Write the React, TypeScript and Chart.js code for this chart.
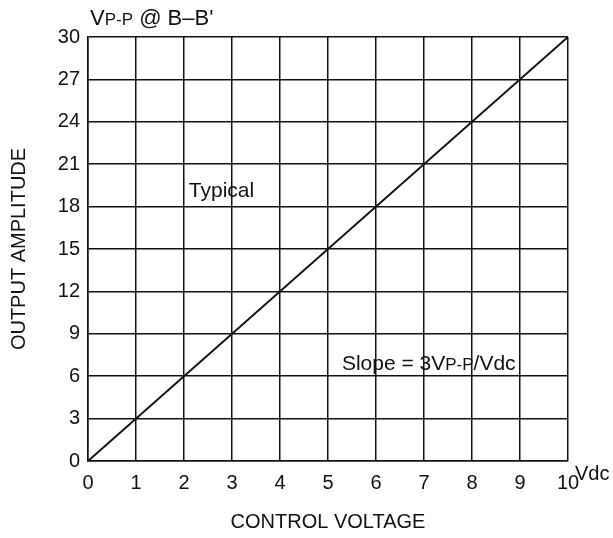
import React, { useEffect, useRef } from "react";
import { Chart, registerables } from "chart.js";

Chart.register(...registerables);

// ---- data ----
const lineX = [0, 10];
const lineY = [0, 30];
const xTickValues = [0, 1, 2, 3, 4, 5, 6, 7, 8, 9, 10];
const yTickValues = [0, 3, 6, 9, 12, 15, 18, 21, 24, 27, 30];
const xTitle = "CONTROL VOLTAGE";
const yTitle = "OUTPUT AMPLITUDE";
const xUnit = "Vdc";
const yUnitParts = ["V", "P-P", " @ B–B'"];
const typicalText = "Typical";
const typicalPos = [2.1, 19.1];
const slopeParts = ["Slope = 3V", "P-P", "/Vdc"];
const slopePos = [5.29, 6.95];

const FONT = "'Liberation Sans', Arial, Helvetica, sans-serif";
const INK = "#111";

function drawParts(ctx: CanvasRenderingContext2D, parts: string[], x: number, baseline: number, big: number, small: number) {
  let cx = x;
  parts.forEach((p, i) => {
    const size = i % 2 === 1 ? small : big;
    ctx.font = `${size}px ${FONT}`;
    ctx.fillText(p, cx, baseline);
    cx += ctx.measureText(p).width;
  });
}

const textPlugin = {
  id: "textPlugin",
  afterDraw(chart: any) {
    const ctx: CanvasRenderingContext2D = chart.ctx;
    const { left, right, top, bottom } = chart.chartArea;
    const xs = chart.scales.x;
    const ys = chart.scales.y;
    ctx.save();
    ctx.fillStyle = INK;
    ctx.textAlign = "left";
    ctx.textBaseline = "alphabetic";

    // top-left unit label
    drawParts(ctx, yUnitParts, left + 2, top - 12, 22, 17);

    // Typical
    ctx.font = `21px ${FONT}`;
    ctx.textBaseline = "middle";
    ctx.fillText(typicalText, xs.getPixelForValue(typicalPos[0]), ys.getPixelForValue(typicalPos[1]));

    // Slope
    ctx.textBaseline = "alphabetic";
    drawParts(ctx, slopeParts, xs.getPixelForValue(slopePos[0]), ys.getPixelForValue(slopePos[1]) + 7.5, 21, 17);

    // Vdc
    ctx.font = `20px ${FONT}`;
    ctx.textBaseline = "middle";
    ctx.fillText(xUnit, right + 7, bottom + 13);

    // axis titles
    ctx.textAlign = "center";
    ctx.font = `20px ${FONT}`;
    ctx.fillText(xTitle, (left + right) / 2, bottom + 61);
    ctx.translate(19, (top + bottom) / 2);
    ctx.rotate(-Math.PI / 2);
    ctx.fillText(yTitle, 0, 0);
    ctx.restore();
  },
};

export default function App() {
  const ref = useRef<HTMLCanvasElement | null>(null);
  useEffect(() => {
    document.body.style.margin = "0";
    document.body.style.overflow = "hidden";
    const canvas = ref.current!;
    const chart = new Chart(canvas, {
      type: "scatter",
      data: {
        datasets: [
          {
            data: lineX.map((x, i) => ({ x, y: lineY[i] })),
            showLine: true,
            borderColor: INK,
            borderWidth: 2,
            pointRadius: 0,
            fill: false,
          },
        ],
      },
      options: {
        responsive: false,
        animation: false,
        devicePixelRatio: 1,
        layout: { padding: { top: 37, right: 45, left: 0, bottom: 0 } },
        plugins: { legend: { display: false }, tooltip: { enabled: false } },
        scales: {
          x: {
            type: "linear",
            min: xTickValues[0],
            max: xTickValues[xTickValues.length - 1],
            afterBuildTicks: (s: any) => { s.ticks = xTickValues.map((v) => ({ value: v })); },
            afterFit: (s: any) => { s.height = 77; },
            ticks: { color: INK, font: { family: FONT, size: 20 }, padding: 10, maxRotation: 0 },
            grid: { color: INK, lineWidth: 1.5, drawTicks: false },
            border: { color: INK, width: 1.5 },
          },
          y: {
            type: "linear",
            min: yTickValues[0],
            max: yTickValues[yTickValues.length - 1],
            afterBuildTicks: (s: any) => { s.ticks = yTickValues.map((v) => ({ value: v })); },
            afterFit: (s: any) => { s.width = 88; },
            ticks: { color: INK, font: { family: FONT, size: 20 }, padding: 8 },
            grid: { color: INK, lineWidth: 1.5, drawTicks: false },
            border: { color: INK, width: 1.5 },
          },
        },
      },
      plugins: [textPlugin],
    });
    return () => chart.destroy();
  }, []);
  return <canvas ref={ref} width={613} height={538} style={{ display: "block" }} />;
}
